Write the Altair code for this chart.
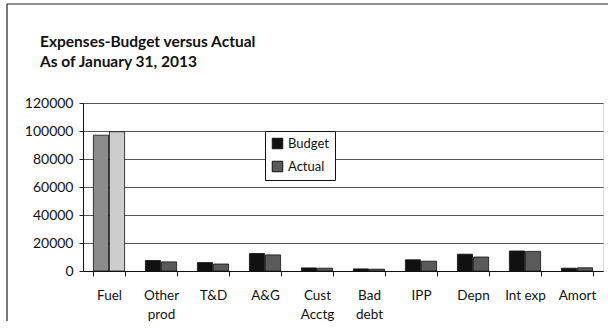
import altair as alt
import pandas as pd

# Expense categories and the two series, in dollars
categories = ["Fuel", "Other prod", "T&D", "A&G", "Cust Acctg",
              "Bad debt", "IPP", "Depn", "Int exp", "Amort"]
budget = [97000, 7500, 6000, 12500, 2200, 1500, 8000, 12000, 14300, 2000]
actual = [99500, 6500, 5000, 11500, 2000, 1300, 7000, 10000, 14000, 2300]
series_names = ["Budget", "Actual"]
y_ticks = [0, 20000, 40000, 60000, 80000, 100000, 120000]

rows = []
for cat, b, a in zip(categories, budget, actual):
    rows.append({"category": cat, "series": "Budget", "amount": b})
    rows.append({"category": cat, "series": "Actual", "amount": a})
df = pd.DataFrame(rows)

FONT = "Lato"
W, H = 520, 168
BOTTOM = 50

# Chart-area border: only its top and left edges fall inside the page
one_row = alt.Data(values=[{}])
frame_top = alt.Chart(one_row).mark_rule(color="#222", strokeWidth=1.2).encode(
    x=alt.value(-76), x2=alt.value(W + 5), y=alt.value(-99)
)
frame_left = alt.Chart(one_row).mark_rect(fill="#222", strokeWidth=0).encode(
    x=alt.value(-76.6), x2=alt.value(-75.4),
    y=alt.value(-99), y2=alt.value(H + BOTTOM),
)

label_expr = ("datum.label == 'Int exp' ? datum.label : split(datum.label, ' ')")

bars = alt.Chart(df).mark_bar(stroke="#111", strokeWidth=0.8).encode(
    x=alt.X(
        "category:N", sort=categories, title=None,
        scale=alt.Scale(paddingInner=0.4, paddingOuter=0.2),
        axis=alt.Axis(
            labelAngle=0, labelFont=FONT, labelFontSize=13.5, labelColor="#111",
            labelExpr=label_expr, labelLineHeight=19, labelBaseline="top",
            labelPadding=12, tickBand="extent", tickSize=5, tickColor="#222",
            domainColor="#111", grid=False,
        ),
    ),
    xOffset=alt.XOffset("series:N", sort=series_names,
                        scale=alt.Scale(paddingInner=0.06)),
    y=alt.Y(
        "amount:Q", title=None,
        scale=alt.Scale(domain=[0, 120000], nice=False),
        axis=alt.Axis(
            values=y_ticks, format="d", labelFont=FONT, labelFontSize=14,
            labelColor="#111", labelPadding=6, tickSize=4, tickColor="#222",
            domainColor="#111", gridColor="#555", gridWidth=1,
        ),
    ),
    color=alt.Color(
        "series:N", sort=series_names,
        scale=alt.Scale(domain=series_names, range=["#111111", "#5a5a5a"]),
        condition=[
            {"test": "datum.category == 'Fuel' && datum.series == 'Budget'",
             "value": "#8c8c8c"},
            {"test": "datum.category == 'Fuel' && datum.series == 'Actual'",
             "value": "#cdcdcd"},
        ],
        legend=alt.Legend(
            title=None, orient="none", legendX=182, legendY=28,
            symbolType="square", symbolSize=110, symbolStrokeColor="#111",
            symbolStrokeWidth=1, labelFont=FONT, labelFontSize=13,
            labelColor="#111", rowPadding=8, padding=6,
            strokeColor="#111", fillColor="white",
        ),
    ),
)

chart = alt.layer(frame_top, frame_left, bars).properties(
    width=W, height=H,
    autosize=alt.AutoSizeParams(type="none"),
    padding={"left": 83, "top": 103, "right": 5, "bottom": BOTTOM},
    title=alt.Title(
        ["Expenses-Budget versus Actual", "As of  January 31, 2013"],
        anchor="start", frame="group", dx=-43, offset=-67,
        font=FONT, fontSize=15.5, fontWeight="bold", color="#111",
        lineHeight=20,
    ),
).configure_view(stroke=None).configure(background="white")

chart.save("out.html", embed_options={"renderer": "svg", "actions": False})
